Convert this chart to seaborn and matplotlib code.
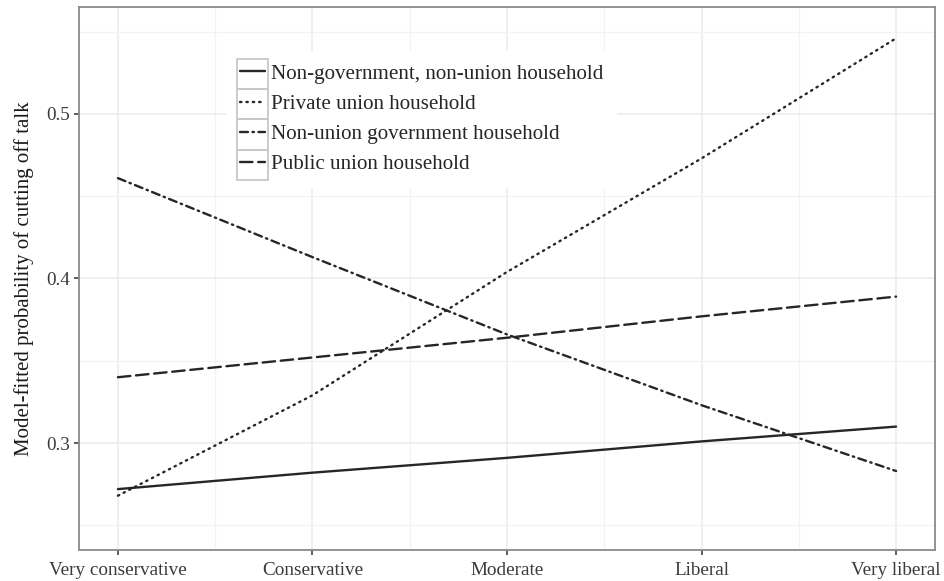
import numpy as np
import pandas as pd
import matplotlib
matplotlib.use("Agg")
import matplotlib.pyplot as plt
from matplotlib.patches import Rectangle
from matplotlib.lines import Line2D
import seaborn as sns

categories = ["Very conservative", "Conservative", "Moderate", "Liberal", "Very liberal"]
groups = ["Non-government, non-union household", "Private union household",
          "Non-union government household", "Public union household"]
nongov_nonunion = [0.272, 0.282, 0.291, 0.301, 0.310]
private_union = [0.268, 0.329, 0.404, 0.473, 0.546]
nonunion_gov = [0.461, 0.413, 0.366, 0.323, 0.283]
public_union = [0.340, 0.352, 0.364, 0.377, 0.389]
y_ticks = [0.3, 0.4, 0.5]
y_ticklabels = ["0.3", "0.4", "0.5"]
y_label = "Model-fitted probability of cutting off talk"

series = [nongov_nonunion, private_union, nonunion_gov, public_union]
rows = []
for g, vals in zip(groups, series):
    for i, v in enumerate(vals):
        rows.append({"pos": i, "prob": v, "group": g})
df = pd.DataFrame(rows)

sns.set_theme(style="whitegrid")
plt.rcParams["font.family"] = ["Liberation Serif", "DejaVu Serif"]

fig = plt.figure(figsize=(9.44, 5.81), dpi=100)
ax = fig.add_axes([79/944, 1-550/581, (935-79)/944, (550-7)/581])

dash_map = {
    groups[0]: "",
    groups[1]: (0.6, 2.1),
    groups[2]: (3.4, 1.9, 0.6, 1.9),
    groups[3]: (5.3, 2.4),
}
LC = "#262626"
LW = 1.7
sns.lineplot(data=df, x="pos", y="prob", style="group", style_order=groups,
             dashes=dash_map, color=LC, linewidth=LW, ax=ax, legend=False)
for ln in ax.get_lines():
    ln.set_dash_capstyle("round")

ax.set_xlim(-0.2, 4.2)
ax.set_ylim(0.235, 0.565)
ax.set_xticks(range(len(categories)))
ax.set_xticklabels(categories)
ax.set_yticks(y_ticks)
ax.set_yticklabels(y_ticklabels)
ax.set_xticks([0.5, 1.5, 2.5, 3.5], minor=True)
ax.set_yticks([0.25, 0.35, 0.45, 0.55], minor=True)
ax.grid(which="major", color="#ebebeb", linewidth=1.1)
ax.grid(which="minor", color="#f3f3f3", linewidth=0.9)
ax.set_axisbelow(True)
ax.set_xlabel("")
ax.set_ylabel(y_label, fontsize=15, color="#1a1a1a", labelpad=9)
ax.tick_params(axis="both", which="major", labelsize=13.8, labelcolor="#3a3a3a",
               color="#333333", length=3.6, width=1.1, direction="out", pad=3,
               left=True, bottom=True)
ax.tick_params(axis="x", which="major", pad=5)
ax.tick_params(which="minor", length=0)
for s in ax.spines.values():
    s.set_color("#8a8a8a")
    s.set_linewidth(1.3)

handles = []
for g in groups:
    d = dash_map[g]
    h = Line2D([], [], color=LC, linewidth=LW, dash_capstyle="round")
    if d != "":
        h.set_dashes(d)
    handles.append(h)
leg = ax.legend(handles, groups, loc="upper left", bbox_to_anchor=(0.1734, 0.9182),
                fontsize=15.1, frameon=True, facecolor="white", edgecolor="white",
                framealpha=1.0, fancybox=False, borderpad=0.6, handlelength=1.2,
                handletextpad=0.3, labelspacing=0.5, borderaxespad=0.0)

fig.canvas.draw()
r = fig.canvas.get_renderer()
texts = leg.get_texts()
lines = leg.get_lines()
ext0 = texts[0].get_window_extent(r)
ext1 = texts[1].get_window_extent(r)
pitch = ext0.y0 - ext1.y0
for t, h in zip(texts, lines):
    te = t.get_window_extent(r)
    he = h.get_window_extent(r)
    cy = (te.y0 + te.y1) / 2
    x0 = he.x0 - 3
    w = he.x1 - he.x0 + 6
    rect = Rectangle((x0, cy - pitch/2), w, pitch, transform=None,
                     fill=False, edgecolor="#c8c8c8", linewidth=1.3, zorder=10)
    fig.patches.append(rect)

fig.savefig("out.png", dpi=100)
